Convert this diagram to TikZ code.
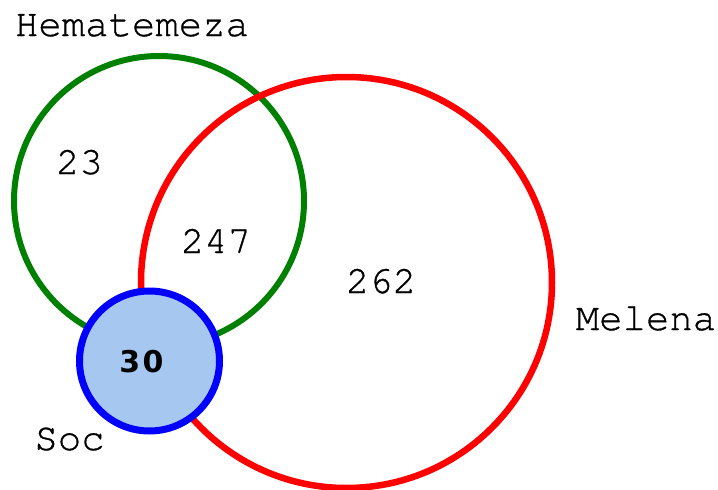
\documentclass[tikz,border=0pt]{standalone}
\usepackage{fontspec}
\newfontfamily\labfont{texgyrecursor-regular.otf}[FakeBold=0.8]
\newfontfamily\boldnum{DejaVu Sans}[LetterSpace=8]
\definecolor{vgreen}{RGB}{0,128,0}
\definecolor{vred}{RGB}{255,0,0}
\definecolor{vblue}{RGB}{0,0,255}
\definecolor{vfill}{RGB}{166,200,240}
\begin{document}
\begin{tikzpicture}[x=1pt,y=-1pt,
  lab/.style={inner sep=0pt,anchor=base,font=\labfont\fontsize{39}{41}\selectfont},
  setcirc/.style={draw,circle,inner sep=0pt}]
\useasboundingbox (0,0) rectangle (718,490);
\node[setcirc,draw=vgreen,line width=6pt,minimum size=290pt] (hem) at (159,201) {};
\node[setcirc,draw=vred,line width=6.5pt,minimum size=411pt] (mel) at (346.5,282.5) {};
\node[setcirc,draw=vblue,fill=vfill,line width=7pt,minimum size=140pt] (soc) at (149.5,361) {};
\node[lab] (them) at (132,36) {Hematemeza};
\node[lab] (tmel) at (646,330) {Melena};
\node[lab] (tsoc) at (69.5,450) {Soc};
\node[lab] (n23) at (79.5,174) {23};
\node[lab] (n247) at (216,253) {247};
\node[lab] (n262) at (381,293) {262};
\node[inner sep=0pt,anchor=base,font=\boldnum\bfseries\fontsize{30}{32}\selectfont] (n30) at (141.5,372) {30};
\end{tikzpicture}
\end{document}
